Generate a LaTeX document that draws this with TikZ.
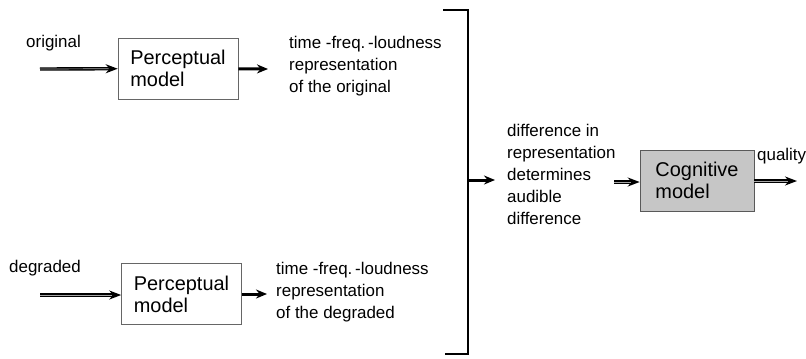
\documentclass[tikz,border=0pt]{standalone}
\usepackage{fontspec}
\setmainfont{Liberation Sans}
\usetikzlibrary{arrows.meta}
\begin{document}
\begin{tikzpicture}[x=1bp, y=-1bp,
        boxStyle/.style={draw=gray!80!black, line width=0.6pt, minimum width=120bp, minimum height=61bp, align=left, font=\fontsize{20}{22}\selectfont, inner sep=9bp},
        textStyle/.style={align=left, anchor=north west, inner sep=0pt, font=\fontsize{17}{22}\selectfont},
        solidArrow/.style={line width=3pt, -{Stealth[length=11bp, width=9bp]}},
        hollowArrow/.style={preaction={draw, black, line width=3.4pt, shorten >=0pt, -{Stealth[length=12bp, width=9bp, inset=4bp]}},
            draw=gray!70, line width=0.7pt, shorten >=9bp}]
    \useasboundingbox (0,0) rectangle (806,358);

    \node[boxStyle](pm1) at (178, 68.5) {Perceptual\\model};
    \node[boxStyle](pm2) at (181.5, 294) {Perceptual\\model};
    \node[boxStyle, fill=gray!45, minimum width=114bp, minimum height=61bp, draw=gray!70!black](cm) at (697, 180.5) {Cognitive\\model};

    \node[textStyle](in1) at (26, 35) {original};
    \node[textStyle](in2) at (9, 260) {degraded};
    \node[textStyle](rep1) at (289, 36) {time -freq.\,-loudness\\representation\\of the original};
    \node[textStyle](rep2) at (276, 262) {time -freq.\,-loudness\\representation\\of the degraded};
    \node[textStyle](diff) at (507, 124) {difference in\\representation\\determines\\audible\\difference};
    \node[textStyle](q) at (757, 148) {quality};

    \coordinate (a1) at (40, 69);
    \coordinate (a2) at (40, 295);
    \coordinate (o1) at (268, 69);
    \coordinate (o2) at (267, 294);
    \coordinate (bt) at (443, 10);
    \coordinate (bm) at (468, 180);
    \coordinate (bb) at (445, 354);
    \coordinate (d) at (495, 180);
    \coordinate (d2) at (614, 182);
    \coordinate (out) at (797, 181);

    \draw[hollowArrow] (a1) -- (pm1);
    \draw[hollowArrow] (a2) -- (pm2.west |- a2);
    \draw[solidArrow] (pm1) -- (o1);
    \draw[solidArrow] (pm2.east |- o2) -- (o2);
    \draw[line width=2.6pt] (bt) -| (bm) |- (bb);
    \draw[solidArrow] (bm) -- (d);
    \draw[hollowArrow] (d2) -- (cm.west |- d2);
    \draw[hollowArrow] (cm.east |- out) -- (out);
\end{tikzpicture}
\end{document}
